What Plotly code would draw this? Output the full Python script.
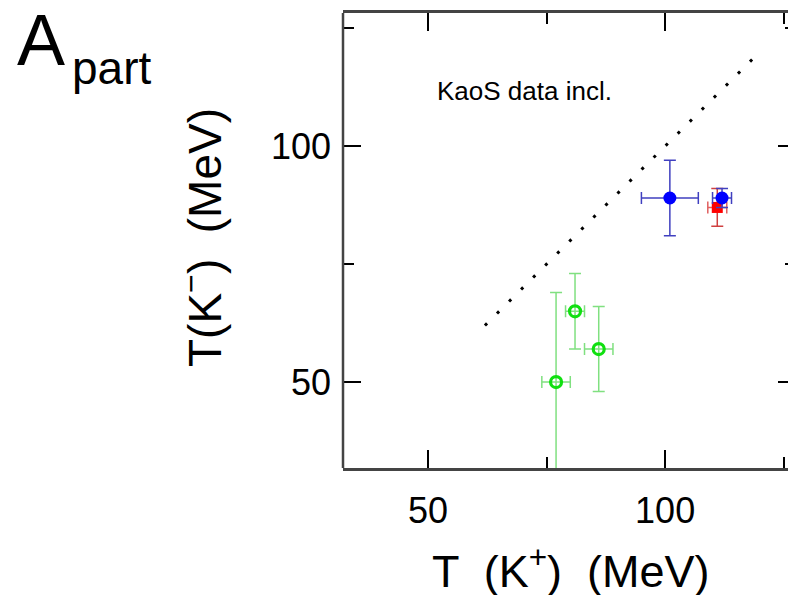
import plotly.graph_objects as go

# ---- data ----
blue_x = [101, 112]
blue_y = [89, 89]
blue_xerr = [6, 2]
blue_yerr = [8, 2]

red_x = [111]
red_y = [87]
red_xerr = [2]
red_yerr = [4]

green_x = [77, 81, 86]
green_y = [50, 65, 57]
green_xerr = [3, 2, 3]
green_yerr = [19, 8, 9]

diag_x = [62, 120]
diag_y = [62, 120]

x_ticks = [50, 100]
y_ticks = [50, 100]

# the page body has an 8px margin, so the figure is drawn at (8, 8)
OFF = 8
W, H = 796 - OFF, 595 - OFF
L, R, T, B = 343 - OFF, 0, 13 - OFF, 127
PW, PH = W - L - R, H - T - B


def xp(px):
    return (px - OFF - L) / PW


def yp(py):
    return (H - B - (py - OFF)) / PH


FONT = "Liberation Sans"

fig = go.Figure()

fig.add_trace(go.Scatter(
    x=diag_x, y=diag_y, mode="lines",
    line=dict(color="black", width=3, dash="3px,14px"),
    showlegend=False, hoverinfo="skip"))

fig.add_trace(go.Scatter(
    x=green_x, y=green_y, mode="markers",
    marker=dict(symbol="circle-open", size=11, color="#10e010",
                line=dict(width=3.2, color="#10e010")),
    error_x=dict(type="data", array=green_xerr, color="#80e080", thickness=1.5, width=6),
    error_y=dict(type="data", array=green_yerr, color="#80e080", thickness=1.5, width=6),
    showlegend=False))

fig.add_trace(go.Scatter(
    x=red_x, y=red_y, mode="markers",
    marker=dict(symbol="square", size=11, color="#ff0000"),
    error_x=dict(type="data", array=red_xerr, color="#e06060", thickness=1.5, width=6),
    error_y=dict(type="data", array=red_yerr, color="#d04040", thickness=1.5, width=6),
    showlegend=False))

fig.add_trace(go.Scatter(
    x=blue_x, y=blue_y, mode="markers",
    marker=dict(symbol="circle", size=13, color="#0000ff"),
    error_x=dict(type="data", array=blue_xerr, color="#4040c0", thickness=1.5, width=6),
    error_y=dict(type="data", array=blue_yerr, color="#4040c0", thickness=1.5, width=6),
    showlegend=False))

axis_common = dict(
    ticks="inside", ticklen=18, tickwidth=2, tickcolor="black",
    showgrid=False, zeroline=False,
    tickfont=dict(family=FONT, size=36, color="black"),
    minor=dict(dtick=25, tick0=0, ticklen=11, tickwidth=2, tickcolor="black", ticks="inside"),
    mirror="ticks",
)

fig.update_xaxes(range=[32.07, 127.6], tickvals=x_ticks, ticktext=[str(v) for v in x_ticks],
                 showline=True, linecolor="#444", linewidth=2.5,
                 ticklabelstandoff=9, **axis_common)
fig.update_yaxes(range=[31.8, 128.2], tickvals=y_ticks, ticktext=[str(v) for v in y_ticks],
                 showline=False, ticklabelstandoff=11, **axis_common)

shapes = [dict(type="line", xref="paper", yref="paper", x0=0, x1=0, y0=0, y1=1,
               line=dict(color="#444", width=2.5))]

annotations = [
    dict(text="A", x=xp(15), y=yp(40), xanchor="left", yanchor="middle",
         font=dict(family=FONT, size=72, color="black")),
    dict(text="part", x=xp(70), y=yp(68), xanchor="left", yanchor="middle",
         font=dict(family=FONT, size=46, color="black")),
    dict(text="KaoS data incl.", x=xp(435), y=yp(91), xanchor="left", yanchor="middle",
         font=dict(family=FONT, size=26, color="black")),
    dict(text="T  (K<sup>+</sup>)  (MeV)", x=xp(571), y=yp(568), xanchor="center", yanchor="middle",
         font=dict(family=FONT, size=45, color="black")),
    dict(text="T(K<sup>−</sup>)  (MeV)", x=xp(202), y=yp(238), xanchor="center", yanchor="middle",
         textangle=-90, font=dict(family=FONT, size=46, color="black")),
]
for a in annotations:
    a.update(xref="paper", yref="paper", showarrow=False)

fig.update_layout(
    width=W, height=H,
    margin=dict(l=L, r=R, t=T, b=B, pad=0),
    paper_bgcolor="white", plot_bgcolor="white",
    shapes=shapes, annotations=annotations,
    font=dict(family=FONT),
)

fig.write_html("out.html")
